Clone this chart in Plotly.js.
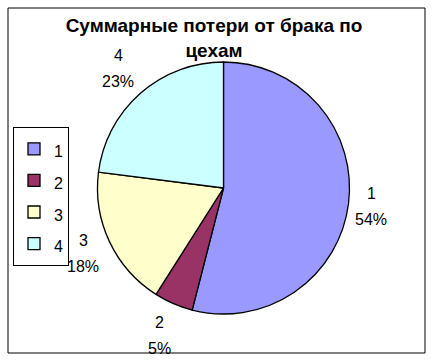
<!DOCTYPE html>
<html>
<head>
<meta charset="utf-8">
<script src="https://cdn.plot.ly/plotly-3.0.1.min.js"></script>
<style>html,body{margin:0;padding:0;background:#fff;}#chart{width:435px;height:362px;}</style>
</head>
<body>
<div id="chart"></div>
<script>
// ---- data ----
const labels = ['1', '2', '3', '4'];
const values = [54, 5, 18, 23];
const colors = ['#9999FF', '#993366', '#FFFFCC', '#CCFFFF'];
const chartTitle = 'Суммарные потери от брака по<br>цехам';

// ---- layout geometry (pixels) ----
const W = 435, H = 362;
const cx = 223.5, cy = 188, r = 126;
const FONT = 'Arial, "Liberation Sans", sans-serif';

const total = values.reduce((a, b) => a + b, 0);
const annotations = [];
let cum = 0;
values.forEach((v, i) => {
  const f = (cum + v / 2) / total;
  cum += v;
  const th = 2 * Math.PI * f;
  const dx = Math.sin(th), dy = Math.cos(th); // dy up-positive
  const pct = Math.round(v / total * 100) + '%';
  const halfW = 11, halfH = 23, gap = 9;
  const dist = r + gap + halfW * Math.abs(dx) + halfH * Math.abs(dy);
  const px = cx + dist * dx;
  const py = cy - dist * dy;
  const xp = px / W, yp = 1 - py / H;
  annotations.push({xref: 'paper', yref: 'paper', x: xp, y: yp, text: labels[i], showarrow: false,
    xanchor: 'center', yanchor: 'middle', yshift: 13, font: {family: FONT, size: 16, color: '#000'}});
  annotations.push({xref: 'paper', yref: 'paper', x: xp, y: yp, text: pct, showarrow: false,
    xanchor: 'center', yanchor: 'middle', yshift: -13, font: {family: FONT, size: 16, color: '#000'}});
});

const trace = {
  type: 'pie',
  labels: labels.map(l => '<span style="font-size:16px">' + l + '</span>'),
  values: values,
  sort: false,
  direction: 'clockwise',
  rotation: 0,
  textinfo: 'none',
  hoverinfo: 'label+percent',
  marker: {colors: colors, line: {color: '#000', width: 1.3}},
  domain: {x: [(cx - r) / W, (cx + r) / W], y: [1 - (cy + r) / H, 1 - (cy - r) / H]}
};

const layout = {
  width: W, height: H,
  margin: {l: 0, r: 0, t: 0, b: 0},
  paper_bgcolor: '#fff',
  plot_bgcolor: '#fff',
  title: {text: '<b>' + chartTitle + '</b>', x: 214 / W, xanchor: 'center', xref: 'paper',
    y: 1 - 32 / H, yanchor: 'top', yref: 'paper',
    font: {family: FONT, size: 19, color: '#000'}},
  showlegend: true,
  legend: {x: 13 / W, y: 1 - 127 / H, xanchor: 'left', yanchor: 'top',
    bordercolor: '#000', borderwidth: 1, bgcolor: '#fff',
    font: {family: FONT, size: 22, color: '#000'}, traceorder: 'normal'},
  annotations: annotations,
  shapes: [{type: 'rect', xref: 'paper', yref: 'paper', x0: 8 / W, x1: 425 / W, y0: 1 - 353 / H, y1: 1 - 8 / H,
    line: {color: '#000', width: 1}, layer: 'above'}]
};

Plotly.newPlot('chart', [trace], layout, {displayModeBar: false, staticPlot: true});
</script>
</body>
</html>
